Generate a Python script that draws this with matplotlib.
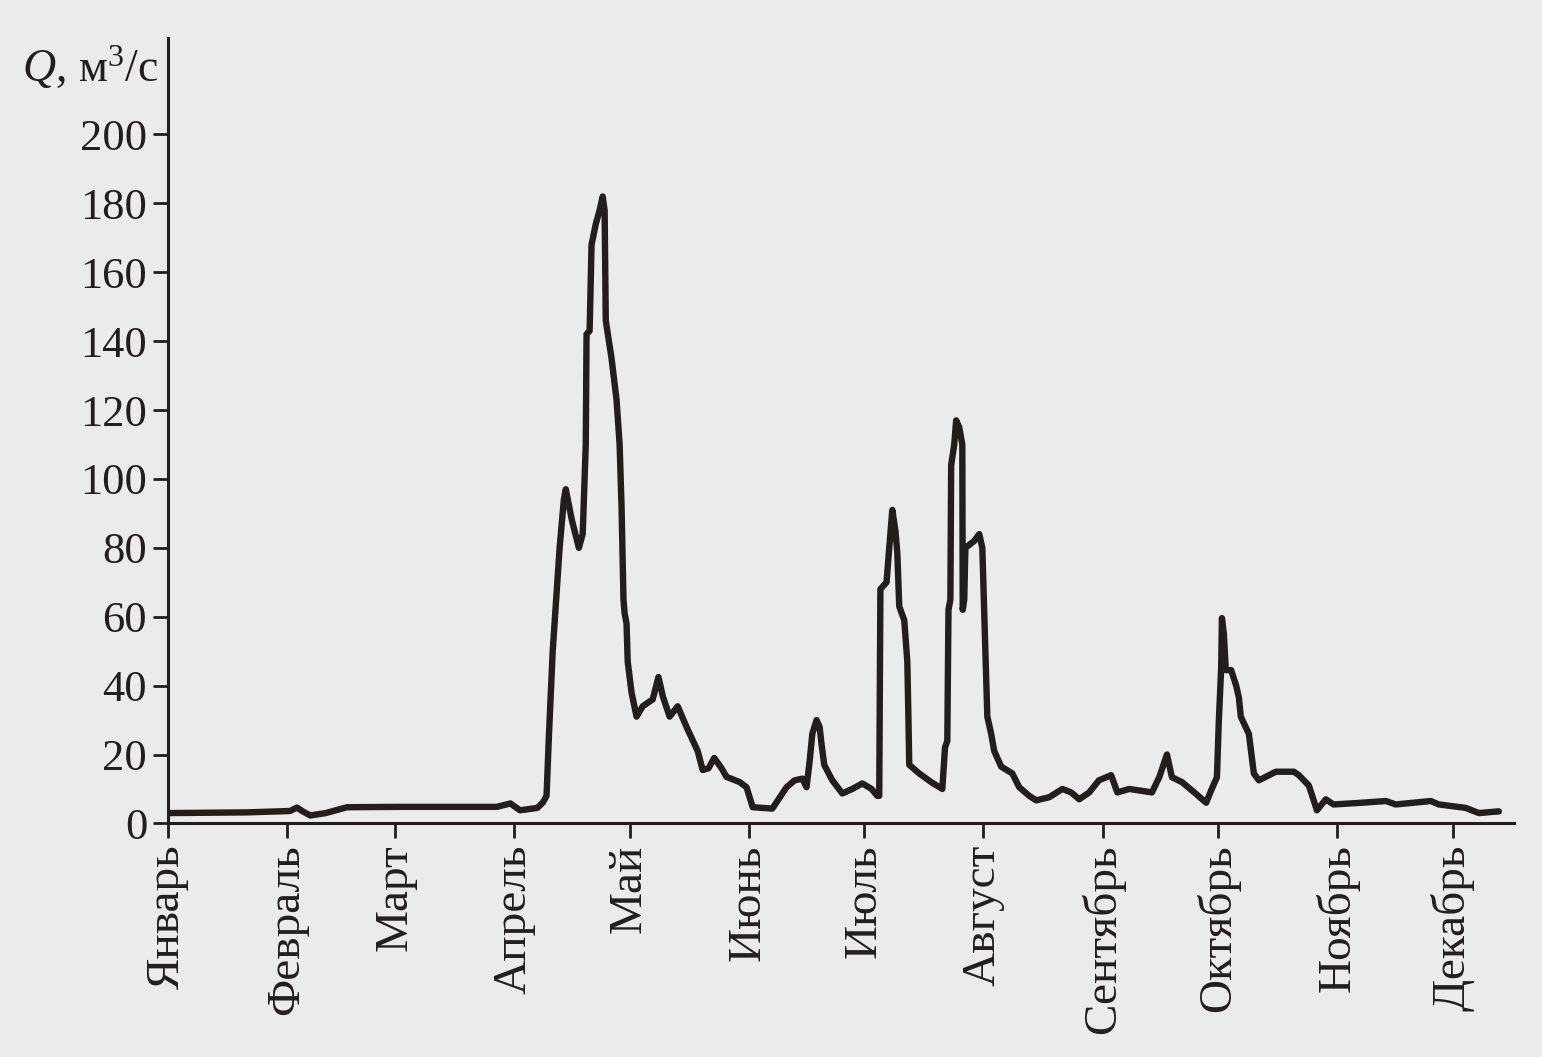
import numpy as np
import matplotlib.pyplot as plt

# Daily discharge hydrograph
# day of year (0 = 1 January) and discharge Q, m3/s
days = [0.5, 20.5, 31.7, 33.5, 35, 37, 41, 46.5, 60, 85.5, 89, 91.5, 96, 97.4, 98.4,
        99, 100, 101.8, 102.9, 103.4, 105, 106.8, 107.8, 108.6, 108.8, 109.6, 110.1,
        111.2, 112.2, 113, 113.5, 113.8, 115.3, 116.6, 117.4, 117.9, 118.4, 118.7,
        119.2, 119.5, 120.5, 121.8, 123.4, 126, 127.5, 128.6, 130.4, 132.5, 134.8,
        137.7, 139, 140.5, 142, 143.9, 145.2, 148.6, 150.4, 152, 157.1, 160.8, 162.9,
        164.9, 166, 166.8, 167.5, 168.6, 169.4, 169.9, 170.6, 172.7, 175.3, 177.9,
        180.5, 182.9, 184.4, 184.9, 185.2, 186.8, 187.5, 188.3, 189.1, 189.6, 190.1,
        191.4, 192.2, 192.5, 192.7, 195.3, 198.4, 201.3, 202, 202.6, 202.9, 203.4,
        203.6, 204.4, 204.9, 205.7, 206.5, 206.6, 207, 207.3, 209.6, 210.9, 211.7,
        212.5, 213, 214, 214.8, 216.6, 219.5, 221.3, 223.9, 225.7, 229.1, 232.5,
        234.8, 236.9, 239.5, 242, 245.2, 246.8, 249.9, 255.8, 257.7, 259.7, 261,
        263.6, 266.8, 269.9, 271.2, 272.7, 273.2, 273.8, 274, 274.5, 275, 276.4,
        277.7, 278.4, 278.9, 281, 282.3, 283.6, 288, 292.7, 294, 296.6, 298.7, 301,
        303, 310.4, 316.6, 319.2, 328.3, 330.4, 337.4, 340.8, 346]
q = [3, 3.2, 3.6, 4.6, 3.5, 2.3, 3, 4.7, 4.8, 4.8, 5.8, 3.8, 4.5, 6, 8,
     25, 50, 80, 94, 97, 88, 80, 84, 110, 142, 143, 168,
     174, 178, 182, 178, 146, 135, 123, 110, 92, 65, 61,
     58, 47, 38, 31, 34, 36, 42.5, 37, 31, 34, 28,
     21, 15.5, 16, 19, 16, 13.5, 12, 10.5, 4.7, 4.3, 10.5, 12.5,
     13, 10.5, 18, 26, 30, 28, 23, 17, 12.5, 8.7, 10,
     11.6, 10, 8, 8, 68, 70, 80, 91, 85, 78.5, 63,
     59, 47, 30, 17, 14.5, 12, 10, 22, 24, 62, 65,
     104, 110, 117, 115, 110, 62, 65, 80, 82, 84, 80,
     50, 31, 26, 21, 16.5, 14.5, 10.5, 8, 6.7, 7.6, 10,
     9, 7, 9, 12.5, 14, 9, 10, 9, 13.4, 20, 13.4,
     12, 9, 6, 9.6, 13.4, 30, 45, 59.6, 55, 44.5, 44.5,
     40, 36.6, 31, 26, 14.5, 12.5, 15, 15, 14, 11, 3.8, 7,
     5.5, 6, 6.5, 5.5, 6.5, 5.5, 4.5, 3, 3.5]

month_start = [0, 31, 59, 90, 120, 151, 181, 212, 243, 273, 304, 334]
month_names = ['Январь', 'Февраль', 'Март', 'Апрель', 'Май', 'Июнь', 'Июль',
               'Август', 'Сентябрь', 'Октябрь', 'Ноябрь', 'Декабрь']
y_ticks = [0, 20, 40, 60, 80, 100, 120, 140, 160, 180, 200]

ink = '#221e1b'
paper = '#ebebe9'

plt.rcParams['font.family'] = ['Liberation Serif', 'DejaVu Serif']
plt.rcParams['mathtext.fontset'] = 'custom'
plt.rcParams['mathtext.rm'] = 'Liberation Serif'
plt.rcParams['mathtext.it'] = 'Liberation Serif:italic'

fig = plt.figure(figsize=(15.42, 10.57), dpi=100, facecolor=paper)
ax = fig.add_axes([0.109, 0.221, 0.873, 0.743])
ax.set_facecolor(paper)

ax.plot(days, q, color=ink, lw=4.6, solid_joinstyle='round', solid_capstyle='round')

ax.set_xlim(0, 350)
ax.set_ylim(0, 228)
ax.set_yticks(y_ticks)
ax.set_xticks(month_start)
ax.set_xticklabels(month_names, rotation=90, fontsize=34)

for s in ['top', 'right']:
    ax.spines[s].set_visible(False)
for s in ['left', 'bottom']:
    ax.spines[s].set_linewidth(2.2)
    ax.spines[s].set_color(ink)

ax.tick_params(axis='both', direction='out', length=11, width=2, color=ink,
               labelcolor=ink, pad=4)
ax.tick_params(axis='y', labelsize=32)

# axis title in the top left corner
fig.text(0.014, 0.935, '$Q$, м$^3$/с', fontsize=33, color=ink, ha='left', va='center')

fig.savefig('out.png', dpi=100, facecolor=paper)
